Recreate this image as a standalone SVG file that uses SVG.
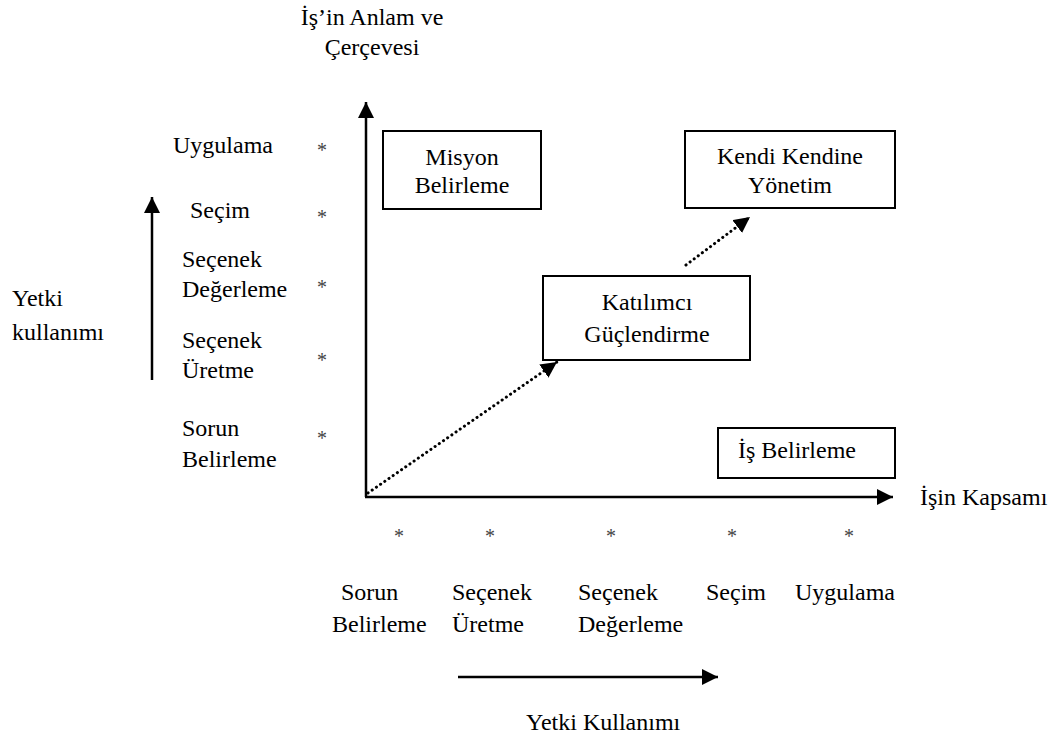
<svg xmlns="http://www.w3.org/2000/svg" width="1062" height="738" viewBox="0 0 1062 738" font-family="'Liberation Serif', 'Times New Roman', 'DejaVu Serif', serif">
<style>
text{font-family:'Liberation Serif','Times New Roman','DejaVu Serif',serif;font-size:24px;fill:#000}
.c{text-anchor:middle}
.ast{font-size:20px;fill:#444}
.box{fill:#fff;stroke:#000;stroke-width:2}
.ax{stroke:#000;stroke-width:2.5;fill:none}
.dot{stroke:#000;stroke-width:3;stroke-dasharray:0.1 5;stroke-linecap:round;fill:none}
</style>
<defs>
<marker id="ah" markerUnits="userSpaceOnUse" markerWidth="18" markerHeight="16" refX="16" refY="8" orient="auto">
<path d="M0,0 L16,8 L0,16 Z" fill="#000"/>
</marker>
</defs>
<g id="title">
<text class="c" x="372" y="25">İş’in Anlam ve</text>
<text class="c" x="372" y="55">Çerçevesi</text>
</g>
<g id="connectors">
<line class="ax" x1="366" y1="497" x2="366" y2="102" marker-end="url(#ah)"/>
<line class="ax" x1="365" y1="497" x2="893" y2="497" marker-end="url(#ah)"/>
<line class="ax" x1="152" y1="380" x2="152" y2="197" marker-end="url(#ah)"/>
<line class="ax" x1="458" y1="677" x2="718" y2="677" marker-end="url(#ah)"/>
<line class="dot" x1="368" y1="493" x2="557" y2="362" marker-end="url(#ah)"/>
<line class="dot" x1="686" y1="265" x2="750" y2="217" marker-end="url(#ah)"/>
</g>
<g id="misyon">
<rect class="box" x="383" y="131" width="158" height="78"/>
<text class="c" x="462" y="165">Misyon</text>
<text class="c" x="462" y="193">Belirleme</text>
</g>
<g id="kendi">
<rect class="box" x="685" y="131" width="210" height="77"/>
<text class="c" x="790" y="164">Kendi Kendine</text>
<text class="c" x="790" y="193">Yönetim</text>
</g>
<g id="katilimci">
<rect class="box" x="543" y="276" width="207" height="84"/>
<text class="c" x="647" y="310">Katılımcı</text>
<text class="c" x="647" y="342">Güçlendirme</text>
</g>
<g id="is-belirleme">
<rect class="box" x="718" y="428" width="177" height="50"/>
<text class="c" x="797" y="458">İş Belirleme</text>
</g>
<g id="y-labels">
<text x="173" y="153">Uygulama</text>
<text x="190" y="218">Seçim</text>
<text x="182" y="267">Seçenek</text>
<text x="182" y="297">Değerleme</text>
<text x="182" y="348">Seçenek</text>
<text x="182" y="378">Üretme</text>
<text x="182" y="436">Sorun</text>
<text x="182" y="467">Belirleme</text>
<text class="ast c" x="322" y="157">*</text>
<text class="ast c" x="322" y="224">*</text>
<text class="ast c" x="322" y="294">*</text>
<text class="ast c" x="322" y="367">*</text>
<text class="ast c" x="322" y="445">*</text>
<text x="12" y="306">Yetki</text>
<text x="12" y="340">kullanımı</text>
</g>
<g id="x-labels">
<text x="920" y="505">İşin Kapsamı</text>
<text class="ast c" x="399" y="543">*</text>
<text class="ast c" x="490" y="543">*</text>
<text class="ast c" x="611" y="543">*</text>
<text class="ast c" x="732" y="543">*</text>
<text class="ast c" x="849" y="543">*</text>
<text x="341" y="600">Sorun</text>
<text x="332" y="632">Belirleme</text>
<text x="452" y="600">Seçenek</text>
<text x="452" y="632">Üretme</text>
<text x="578" y="600">Seçenek</text>
<text x="578" y="632">Değerleme</text>
<text x="706" y="600">Seçim</text>
<text x="795" y="600">Uygulama</text>
<text x="526" y="730">Yetki Kullanımı</text>
</g>
</svg>
